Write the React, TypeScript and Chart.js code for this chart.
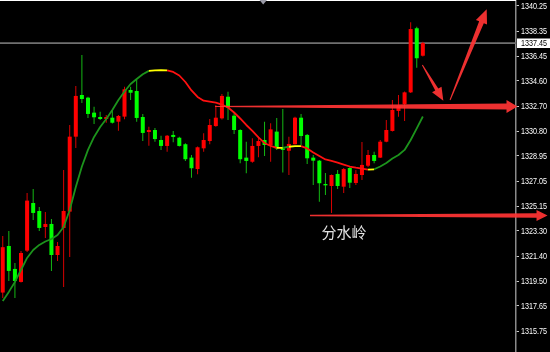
import React, { useEffect, useRef } from "react";
import { Chart, registerables } from "chart.js";

Chart.register(...registerables);

// Gold, hourly candles: open / high / low / close
const opens = [
  1318.65, 1322.16, 1320.43, 1319.45, 1321.81, 1325.4, 1324.8, 1323.59, 1323.82, 1321.48,
  1323.52, 1324.75, 1330.4, 1333.54, 1333.34, 1332.21, 1331.88, 1331.73, 1331.83, 1331.53,
  1331.91, 1333.92, 1333.84, 1331.88, 1330.75, 1330.9, 1330.15, 1329.7, 1330.53, 1330.32,
  1329.83, 1328.82, 1327.96, 1329.52, 1330.07, 1331.2, 1331.78, 1333.41, 1331.98, 1330.9,
  1328.82, 1328.51, 1329.7, 1330.15, 1329.77, 1330.78, 1329.52, 1329.34, 1329.83, 1331.83,
  1330.53, 1328.82, 1328.59, 1326.83, 1326.68, 1327.59, 1326.63, 1328.04, 1326.91, 1327.51,
  1328.21, 1329.02, 1328.82, 1330.02, 1330.83, 1332.34, 1332.84, 1333.74, 1338.57, 1336.5,
];
const highs = [
  1322.92, 1323.29, 1320.88, 1321.78, 1326.16, 1326.46, 1325.1, 1324.72, 1324.2, 1322.46,
  1327.89, 1331.28, 1334.22, 1336.56, 1333.4, 1332.66, 1332.28, 1332.03, 1332.41, 1332.03,
  1334.17, 1334.17, 1334.72, 1332.11, 1331.15, 1331.05, 1330.47, 1330.53, 1330.83, 1330.4,
  1329.9, 1329.02, 1329.65, 1330.65, 1331.73, 1332.79, 1333.62, 1333.79, 1332.16, 1330.95,
  1330.02, 1330.28, 1330.4, 1331.53, 1331.41, 1331.8, 1332.49, 1330.4, 1331.9, 1332.11,
  1330.6, 1329.02, 1328.65, 1327.66, 1327.55, 1327.89, 1328.04, 1328.1, 1327.89, 1330.0,
  1329.4, 1329.27, 1330.15, 1331.66, 1333.16, 1333.54, 1333.8, 1339.02, 1338.69, 1337.56,
];
const lows = [
  1318.24, 1319.52, 1318.24, 1319.4, 1321.71, 1324.12, 1323.29, 1322.77, 1320.28, 1321.03,
  1319.07, 1321.33, 1329.55, 1332.94, 1331.81, 1331.36, 1331.66, 1331.45, 1331.4, 1330.85,
  1331.71, 1333.16, 1331.53, 1330.07, 1329.72, 1330.02, 1329.4, 1329.27, 1329.98, 1329.65,
  1328.57, 1327.31, 1327.57, 1329.27, 1329.83, 1331.15, 1331.7, 1331.66, 1330.6, 1328.39,
  1327.64, 1328.44, 1328.85, 1328.94, 1328.51, 1329.4, 1327.69, 1327.51, 1329.8, 1329.77,
  1328.34, 1326.76, 1325.5, 1326.01, 1324.65, 1326.46, 1326.16, 1326.53, 1326.76, 1327.14,
  1328.12, 1328.39, 1328.79, 1329.98, 1330.78, 1331.91, 1331.58, 1333.7, 1335.6, 1336.45,
];
const closes = [
  1322.07, 1320.28, 1319.52, 1321.63, 1325.58, 1324.65, 1323.52, 1323.82, 1321.48, 1322.16,
  1324.8, 1330.4, 1333.47, 1333.24, 1332.11, 1331.86, 1331.73, 1331.88, 1331.45, 1331.96,
  1333.97, 1333.71, 1331.81, 1330.68, 1330.9, 1330.22, 1329.7, 1330.47, 1330.38, 1329.7,
  1328.7, 1328.02, 1329.6, 1330.15, 1331.28, 1331.83, 1333.47, 1332.58, 1330.9, 1328.7,
  1328.57, 1329.7, 1330.07, 1329.77, 1330.95, 1329.52, 1329.4, 1329.85, 1331.83, 1330.45,
  1328.77, 1328.59, 1326.89, 1326.73, 1327.51, 1326.68, 1327.96, 1326.93, 1327.59, 1328.27,
  1329.02, 1328.57, 1330.02, 1330.9, 1332.41, 1332.74, 1333.74, 1338.51, 1336.31, 1337.45,
];
// smoothed moving average
const maLine = [
  1318.02, 1318.7, 1319.45, 1320.35, 1321.26, 1321.86, 1322.24, 1322.5, 1322.69, 1322.99,
  1323.59, 1324.87, 1326.61, 1328.15, 1329.4, 1330.38, 1331.13, 1331.73, 1332.41, 1333.16,
  1333.8, 1334.37, 1334.75, 1335.1, 1335.36, 1335.4, 1335.42, 1335.39, 1335.28, 1335.01,
  1334.52, 1333.88, 1333.39, 1333.11, 1333.04, 1332.97, 1332.82, 1332.6, 1332.22, 1331.77,
  1331.28, 1330.83, 1330.34, 1329.92, 1329.7, 1329.55, 1329.56, 1329.64, 1329.68, 1329.68,
  1329.51, 1329.21, 1328.94, 1328.68, 1328.57, 1328.45, 1328.3, 1328.15, 1328.06, 1327.99,
  1327.92, 1327.94, 1328.15, 1328.42, 1328.76, 1329.02, 1329.4, 1330.15, 1331.02, 1331.92,
];
const priceTicks = [
  1340.25, 1338.35, 1336.45, 1334.6, 1332.7, 1330.8, 1328.95, 1327.05, 1325.15, 1323.3,
  1321.4, 1319.5, 1317.65, 1315.75,
];
const lastPrice = 1337.45;
const noteText = "分水岭";

// visible window: bar slots (with empty space on the right) and price span
const xRange = { min: -0.45, max: 84.3 };
const yRange = { min: 1314.17, max: 1340.7 };

// hand-drawn arrows, anchored in bar index / price units
const arrows = [
  { from: [34.87, 1332.67], to: [84.55, 1332.67], w0: 1, w1: 6, head: 11, half: 6.5 },
  { from: [50.47, 1324.45], to: [89.48, 1324.45], w0: 1.5, w1: 4.5, head: 11, half: 5.5 },
  { from: [68.92, 1335.8], to: [72.37, 1333.11], w0: 1, w1: 3.5, head: 13, half: 5.5 },
  { from: [73.47, 1333.16], to: [79.49, 1340.0], w0: 1, w1: 5, head: 14, half: 6 },
];
const noteAt = [56.05, 1323.22];

const UP_BODY = "#ff0000";
const DOWN_BODY = "#00ff00";
const UP_WICK = "#d80000";
const DOWN_WICK = "#14b814";
const MA_RISE = "#1c941c";
const MA_FALL = "#ff1010";
const MA_FLAT = "#ffff00";
const ARROW = "rgba(255, 52, 52, 0.93)";
const AXIS_FONT = "9px 'Liberation Sans', Arial, sans-serif";
const LABEL_SQUEEZE = 0.8;

// narrow price label, left edge at x
function drawPriceText(ctx: CanvasRenderingContext2D, text: string, x: number, y: number) {
  ctx.save();
  ctx.translate(x, y);
  ctx.scale(LABEL_SQUEEZE, 1);
  ctx.fillText(text, 0, 0);
  ctx.restore();
}

const overlay = {
  id: "overlay",
  beforeDatasetsDraw(chart: any) {
    const { ctx, chartArea, scales } = chart;
    const y = scales.y.getPixelForValue(lastPrice);
    ctx.save();
    ctx.strokeStyle = "#707070";
    ctx.lineWidth = 1.6;
    ctx.beginPath();
    ctx.moveTo(chartArea.left, y);
    ctx.lineTo(chartArea.right, y);
    ctx.stroke();
    ctx.restore();
  },
  afterDraw(chart: any) {
    const { ctx, chartArea, scales } = chart;
    const xs = scales.x;
    const ys = scales.y;
    ctx.save();

    // top frame line and shift marker
    ctx.fillStyle = "#ffffff";
    ctx.fillRect(chartArea.left, 0, chartArea.right - chartArea.left, 1);
    ctx.fillStyle = "#9a9aa6";
    ctx.beginPath();
    ctx.moveTo(259.5, 0);
    ctx.lineTo(267, 0);
    ctx.lineTo(263.2, 4.5);
    ctx.closePath();
    ctx.fill();

    // price scale labels
    ctx.font = AXIS_FONT;
    ctx.textBaseline = "middle";
    ctx.textAlign = "left";
    ctx.fillStyle = "#ffffff";
    for (const t of ys.ticks) {
      drawPriceText(ctx, Number(t.value).toFixed(2), chartArea.right + 5, ys.getPixelForValue(t.value) + 0.5);
    }

    // last price tag
    const py = ys.getPixelForValue(lastPrice);
    ctx.fillStyle = "#ffffff";
    ctx.fillRect(chartArea.right + 1, Math.round(py) - 4.5, 33, 9.5);
    ctx.fillStyle = "#000000";
    drawPriceText(ctx, lastPrice.toFixed(2), chartArea.right + 5, py + 0.5);

    // arrows
    ctx.fillStyle = ARROW;
    for (const a of arrows) {
      const x0 = xs.getPixelForValue(a.from[0]);
      const y0 = ys.getPixelForValue(a.from[1]);
      const x1 = xs.getPixelForValue(a.to[0]);
      const y1 = ys.getPixelForValue(a.to[1]);
      const len = Math.hypot(x1 - x0, y1 - y0);
      const ux = (x1 - x0) / len;
      const uy = (y1 - y0) / len;
      const nx = -uy;
      const ny = ux;
      const bx = x1 - ux * a.head;
      const by = y1 - uy * a.head;
      ctx.beginPath();
      ctx.moveTo(x0 + (nx * a.w0) / 2, y0 + (ny * a.w0) / 2);
      ctx.lineTo(bx + (nx * a.w1) / 2, by + (ny * a.w1) / 2);
      ctx.lineTo(bx + nx * a.half, by + ny * a.half);
      ctx.lineTo(x1, y1);
      ctx.lineTo(bx - nx * a.half, by - ny * a.half);
      ctx.lineTo(bx - (nx * a.w1) / 2, by - (ny * a.w1) / 2);
      ctx.lineTo(x0 - (nx * a.w0) / 2, y0 - (ny * a.w0) / 2);
      ctx.closePath();
      ctx.fill();
    }

    // annotation text
    ctx.fillStyle = "#e4e4e4";
    ctx.font = "15px 'Noto Sans CJK SC', sans-serif";
    ctx.textAlign = "center";
    ctx.textBaseline = "middle";
    ctx.fillText(noteText, xs.getPixelForValue(noteAt[0]), ys.getPixelForValue(noteAt[1]));
    ctx.restore();
  },
};

export default function App() {
  const canvasRef = useRef<HTMLCanvasElement | null>(null);

  useEffect(() => {
    document.body.style.margin = "0";
    document.body.style.background = "#000";
    const canvas = canvasRef.current;
    if (!canvas) return;

    const idx = opens.map((_, i) => i);
    const isUp = (i: number) => closes[i] >= opens[i];

    const chart = new Chart(canvas, {
      type: "bar",
      data: {
        datasets: [
          {
            type: "line",
            data: idx.map((i) => ({ x: i, y: maLine[i] })),
            borderWidth: 1.8,
            pointRadius: 0,
            tension: 0,
            borderJoinStyle: "round",
            borderColor: MA_RISE,
            segment: {
              borderColor: (c: any) => {
                const d = c.p1.parsed.y - c.p0.parsed.y;
                return d > 0.05 ? MA_RISE : d < -0.05 ? MA_FALL : MA_FLAT;
              },
            },
            order: 0,
          } as any,
          {
            type: "bar",
            data: idx.map((i) => ({ x: i, y: [opens[i], closes[i]] })),
            backgroundColor: idx.map((i) => (isUp(i) ? UP_BODY : DOWN_BODY)),
            barThickness: 4,
            minBarLength: 1,
            grouped: false,
            inflateAmount: 0,
            order: 1,
          } as any,
          {
            type: "bar",
            data: idx.map((i) => ({ x: i, y: [lows[i], highs[i]] })),
            backgroundColor: idx.map((i) => (isUp(i) ? UP_WICK : DOWN_WICK)),
            barThickness: 1,
            grouped: false,
            inflateAmount: 0,
            order: 2,
          } as any,
        ],
      },
      options: {
        responsive: false,
        animation: false,
        devicePixelRatio: 1,
        layout: { padding: 0 },
        plugins: { legend: { display: false }, tooltip: { enabled: false } },
        scales: {
          x: {
            type: "linear",
            display: false,
            offset: false,
            min: xRange.min,
            max: xRange.max,
          },
          y: {
            type: "linear",
            position: "right",
            min: yRange.min,
            max: yRange.max,
            afterBuildTicks: (axis: any) => {
              axis.ticks = priceTicks.map((v) => ({ value: v }));
            },
            afterFit: (axis: any) => {
              axis.width = 34;
              axis.paddingTop = 0;
              axis.paddingBottom = 0;
            },
            ticks: { display: false, autoSkip: false },
            grid: {
              drawOnChartArea: false,
              tickLength: 3,
              tickColor: "#c8c8c8",
              tickWidth: 1,
            },
            border: { color: "#8a8a8a", width: 1.5 },
          },
        },
      } as any,
      plugins: [overlay],
    });

    return () => chart.destroy();
  }, []);

  return (
    <div style={{ width: 550, height: 352, background: "#000" }}>
      <canvas ref={canvasRef} width={550} height={352} style={{ display: "block", background: "#000" }} />
    </div>
  );
}
